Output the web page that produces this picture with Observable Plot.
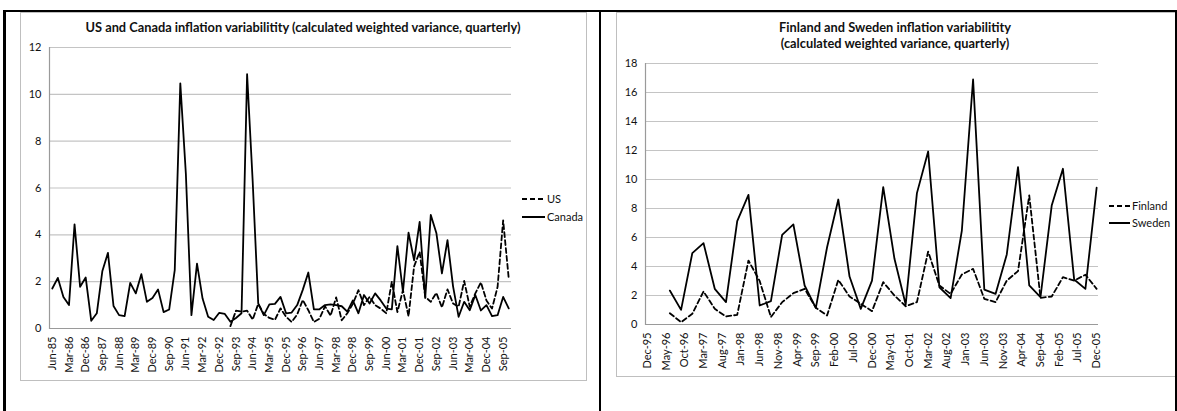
<!DOCTYPE html>
<html><head><meta charset="utf-8">
<script src="https://cdn.jsdelivr.net/npm/d3@7"></script>
<script src="https://cdn.jsdelivr.net/npm/@observablehq/plot@0.6"></script>
<style>
body{margin:0;background:#fff;font-family:Lato,"Open Sans",sans-serif;}
#page{position:relative;width:1177px;height:411px;overflow:hidden;background:#fff}
.b{position:absolute;background:#000;}
.frame{position:absolute;border:1px solid #bfbfbf;background:#fff;box-sizing:border-box}
.plot{position:absolute}
.title{position:absolute;font-weight:bold;font-size:12.8px;text-align:center;color:#111;line-height:16px;white-space:nowrap}
.leg{position:absolute;font-size:11px;color:#111;display:flex;align-items:center;line-height:12px}
.leg svg{display:block;margin-right:2px}
</style></head>
<body>
<div id="page">
  <div class="frame" style="left:20px;top:12px;width:567px;height:369px"></div>
  <div class="frame" style="left:616px;top:12px;width:560px;height:365px"></div>
  <div class="plot" id="left" style="left:20px;top:12px"></div>
  <div class="plot" id="right" style="left:616px;top:12px"></div>
  <div class="title" id="t1" style="left:0px;width:606px;top:19px"></div>
  <div class="title" id="t2" style="left:695px;width:400px;top:19px"></div>
  <div class="leg" style="left:522px;top:193px"><svg width="23" height="4"><line x1="0" y1="2" x2="23" y2="2" stroke="#000" stroke-width="2" stroke-dasharray="5,3"/></svg><span id="l1"></span></div>
  <div class="leg" style="left:522px;top:211px"><svg width="23" height="4"><line x1="0" y1="2" x2="23" y2="2" stroke="#000" stroke-width="2"/></svg><span id="l2"></span></div>
  <div class="leg" style="left:1109px;top:200px"><svg width="21" height="4"><line x1="0" y1="2" x2="21" y2="2" stroke="#000" stroke-width="2" stroke-dasharray="5,3"/></svg><span id="l3"></span></div>
  <div class="leg" style="left:1109px;top:217px"><svg width="21" height="4"><line x1="0" y1="2" x2="21" y2="2" stroke="#000" stroke-width="2"/></svg><span id="l4"></span></div>
  <div class="b" style="left:3px;top:10px;width:1174px;height:2px"></div>
  <div class="b" style="left:3px;top:10px;width:3px;height:401px"></div>
  <div class="b" style="left:599px;top:10px;width:2px;height:401px"></div>
  <div class="b" style="left:1175px;top:10px;width:2px;height:401px"></div>
</div>
<script>
// ---------- data ----------
const title1 = "US and Canada inflation variabilitity (calculated weighted variance, quarterly)";
const title2 = ["Finland and Sweden inflation variabilitity", "(calculated weighted variance, quarterly)"];
const seriesNames1 = ["US", "Canada"];
const seriesNames2 = ["Finland", "Sweden"];

// quarterly categories Jun-85 .. Dec-05
const fmt = d3.utcFormat("%b-%y");
const quarters = d3.utcMonth.range(new Date(Date.UTC(1985,5,1)), new Date(Date.UTC(2006,0,1)), 3).map(fmt);
const quarterTicks = quarters.filter((d,i) => i % 3 === 0);

const canada = [1.71,2.16,1.35,1.0,4.45,1.78,2.18,0.33,0.65,2.46,3.23,0.96,0.57,0.53,1.95,1.5,2.32,1.14,1.3,1.67,
  0.70,0.81,2.49,10.47,6.6,0.57,2.77,1.28,0.5,0.36,0.67,0.62,0.29,0.45,0.65,10.86,6.3,1.07,0.57,1.03,
  1.05,1.35,0.65,0.68,1.0,1.65,2.39,0.82,0.82,1.0,1.03,1.0,0.95,0.72,1.2,0.65,1.43,1.07,1.5,1.2,
  0.85,0.82,3.52,1.57,4.09,2.91,4.55,1.3,4.85,4.08,2.35,3.77,1.8,0.5,1.14,0.78,1.43,0.77,1.0,0.53,
  0.57,1.35,0.86];
// US begins at Jun-93 (index 32)
const usStart = 32;
const us = [0.1,0.76,0.72,0.76,0.38,1.05,0.62,0.45,0.37,0.86,0.5,0.28,0.6,1.22,0.78,0.28,0.42,0.95,0.55,1.33,
  0.35,0.65,1.05,1.64,1.0,1.35,1.0,0.85,0.65,2.0,0.7,1.64,0.52,2.65,3.27,1.35,1.14,1.52,0.9,1.67,
  1.07,0.93,2.03,0.93,1.5,1.97,1.2,0.85,1.78,4.62,2.14];

// monthly categories Dec-95 .. Dec-05, quarterly observations Jun-96 .. Dec-05
const months = d3.utcMonth.range(new Date(Date.UTC(1995,11,1)), new Date(Date.UTC(2006,0,1))).map(fmt);
const monthTicks = months.filter((d,i) => i % 5 === 0);
const obsMonths = d3.utcMonth.range(new Date(Date.UTC(1996,5,1)), new Date(Date.UTC(2006,0,1)), 3).map(fmt);
const finland = [0.78,0.16,0.74,2.28,1.08,0.55,0.67,4.41,3.0,0.51,1.54,2.16,2.46,1.15,0.62,3.08,1.93,1.43,0.92,2.92,
  2.0,1.26,1.54,5.03,2.69,2.11,3.45,3.84,1.77,1.54,3.03,3.68,8.9,1.84,1.93,3.26,3.03,3.43,2.46];
const sweden = [2.34,1.01,4.92,5.61,2.46,1.54,7.13,8.94,1.31,1.61,6.18,6.9,2.69,1.15,5.33,8.62,3.31,1.08,3.03,9.47,
  4.53,1.38,9.06,11.93,2.57,1.82,6.48,16.9,2.41,2.11,4.83,10.85,2.69,1.88,8.2,10.74,3.1,2.46,9.43];

const yTicks1 = [0,2,4,6,8,10,12];
const yTicks2 = [0,2,4,6,8,10,12,14,16,18];

// ---------- build ----------
const canadaData = canada.map((v,i) => ({q: quarters[i], v}));
const usData = us.map((v,i) => ({q: quarters[usStart+i], v}));
const finData = finland.map((v,i) => ({m: obsMonths[i], v}));
const sweData = sweden.map((v,i) => ({m: obsMonths[i], v}));

const FONT = "Lato, 'Open Sans', sans-serif";
const GRID = "#c4c4c4", AXIS = "#9a9a9a", TXT = "#111";

function chart({width, height, mL, mR, mT, mB, xDomain, xTicks, yDomain, yTicks, xKey, solid, dashed}) {
  return Plot.plot({
    width, height, marginLeft: mL, marginRight: mR, marginTop: mT, marginBottom: mB,
    style: {fontFamily: FONT, fontSize: "11px", color: TXT, background: "transparent", overflow: "visible"},
    x: {type: "point", domain: xDomain, padding: 0.5, label: null},
    y: {domain: yDomain, label: null},
    marks: [
      Plot.gridY(yTicks.filter(d => d > 0), {stroke: GRID, strokeOpacity: 1, strokeWidth: 1.2}),
      Plot.ruleY([0], {stroke: AXIS, strokeWidth: 1.2}),
      Plot.frame({anchor: "left", stroke: AXIS, strokeWidth: 1.2}),
      Plot.axisY(yTicks, {tickSize: 0, tickPadding: 8, fill: TXT, fontSize: 11, label: null}),
      Plot.axisX(xTicks, {tickSize: 0, tickPadding: 8, tickRotate: -90, fill: TXT, fontSize: 11, label: null}),
      Plot.line(dashed, {x: xKey, y: "v", stroke: "#000", strokeWidth: 1.8, strokeDasharray: "5,3"}),
      Plot.line(solid, {x: xKey, y: "v", stroke: "#000", strokeWidth: 1.8})
    ]
  });
}

document.getElementById("left").append(chart({
  width: 566, height: 368, mL: 29, mR: 75, mT: 35, mB: 52,
  xDomain: quarters, xTicks: quarterTicks, yDomain: [0,12], yTicks: yTicks1,
  xKey: "q", solid: canadaData, dashed: usData
}));
document.getElementById("right").append(chart({
  width: 559, height: 364, mL: 29, mR: 77, mT: 51, mB: 52,
  xDomain: months, xTicks: monthTicks, yDomain: [0,18], yTicks: yTicks2,
  xKey: "m", solid: sweData, dashed: finData
}));

document.getElementById("t1").textContent = title1;
document.getElementById("t2").innerHTML = title2.join("<br>");
document.getElementById("l1").textContent = seriesNames1[0];
document.getElementById("l2").textContent = seriesNames1[1];
document.getElementById("l3").textContent = seriesNames2[0];
document.getElementById("l4").textContent = seriesNames2[1];
</script>
</body></html>
